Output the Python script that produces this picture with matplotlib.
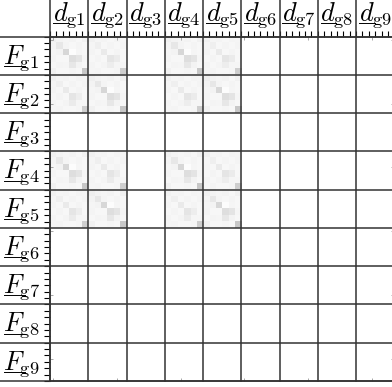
import numpy as np
import matplotlib
matplotlib.use("Agg")
import matplotlib.pyplot as plt
from matplotlib.lines import Line2D

plt.rcParams["mathtext.fontset"] = "cm"

# Group labels along each axis (main symbol + subscript)
col_symbol, row_symbol = "d", "F"
group_names = ["g1", "g2", "g3", "g4", "g5", "g6", "g7", "g8", "g9"]

# Groups that carry non-zero coupling blocks
active_groups = [1, 2, 4, 5]
paired_groups = [1, 4]

# 6x6 coupling block between groups of the same kind
block_same = [
    [0.13, 0.10, 0.08, 0.10, 0.07, 0.11],
    [0.10, 0.17, 0.09, 0.07, 0.09, 0.07],
    [0.08, 0.10, 0.26, 0.02, 0.08, 0.06],
    [0.09, 0.07, 0.06, 0.22, 0.19, 0.08],
    [0.07, 0.09, 0.08, 0.17, 0.10, 0.07],
    [0.11, 0.07, 0.06, 0.08, 0.07, 0.33],
]

# 6x6 coupling block between groups of different kind
block_cross = [
    [0.11, 0.08, 0.09, 0.07, 0.09, 0.08],
    [0.08, 0.13, 0.07, 0.09, 0.06, 0.09],
    [0.09, 0.07, 0.16, 0.06, 0.09, 0.07],
    [0.07, 0.09, 0.06, 0.18, 0.15, 0.06],
    [0.09, 0.06, 0.09, 0.14, 0.08, 0.08],
    [0.08, 0.09, 0.07, 0.06, 0.08, 0.30],
]

n_groups = len(group_names)
bs = 6
N = n_groups * bs

M = np.zeros((N, N))
for gi in active_groups:
    for gj in active_groups:
        if (gi in paired_groups) == (gj in paired_groups):
            blk = np.array(block_same)
        else:
            blk = np.array(block_cross)
            if gi > gj:
                blk = blk.T
        M[(gi - 1) * bs:gi * bs, (gj - 1) * bs:gj * bs] = blk

W, H = 392, 387
fig = plt.figure(figsize=(W / 100, H / 100), dpi=100)
left_px, top_px, side_px = 50.0, 36.7, 344.3
ax = fig.add_axes([left_px / W, (H - top_px - side_px) / H, side_px / W, side_px / H])

ax.imshow(M, cmap="Greys", vmin=0, vmax=1, aspect="auto", interpolation="nearest")

# Major ticks (no labels), small and inward on all sides
ax.set_xticks(np.arange(0, N, 10))
ax.set_yticks(np.arange(0, N, 10))
ax.tick_params(which="major", direction="in", length=2.5, width=0.6, color="#999999",
               top=True, bottom=True, left=True, right=True,
               labelbottom=False, labelleft=False, labeltop=False, labelright=False)

# Minor ticks at cell boundaries on top and left
minor = np.arange(-0.5, N, 1.0)
ax.set_xticks(minor, minor=True)
ax.set_yticks(minor, minor=True)
ax.tick_params(which="minor", direction="out", length=4, width=0.8, color="black",
               top=True, bottom=False, left=True, right=False)

for sp in ax.spines.values():
    sp.set_linewidth(1.1)
    sp.set_color("#333333")

# Block separators running into the label band
ext_left = -left_px / side_px
ext_top = 1 + top_px / side_px
for k in range(n_groups + 1):
    f = k / n_groups
    ax.add_line(Line2D([f, f], [0, ext_top], transform=ax.transAxes,
                       color="#333333", lw=1.1, clip_on=False))
    ax.add_line(Line2D([ext_left, 1], [1 - f, 1 - f], transform=ax.transAxes,
                       color="#333333", lw=1.1, clip_on=False))

FS = 19
renderer = fig.canvas.get_renderer()


def symbol_width(sym):
    t = fig.text(0, 0, r"$%s$" % sym, fontsize=FS)
    w = t.get_window_extent(renderer).width
    t.remove()
    return w


def underlined_label(x_px, base_px, sym, sub, ha):
    """Place a label at figure pixel coords (from top-left) and underline its main symbol."""
    t = fig.text(x_px / W, 1 - base_px / H, r"$%s_{\mathrm{%s}}$" % (sym, sub),
                 ha=ha, va="baseline", fontsize=FS)
    bb = t.get_window_extent(renderer)
    w = symbol_width(sym)
    y_line = (H - base_px - 2.6) / H
    fig.add_artist(Line2D([(bb.x0 + 0.5) / W, (bb.x0 + w + 0.5) / W], [y_line, y_line],
                          transform=fig.transFigure, color="black", lw=0.7))


block_px = side_px / n_groups
for k, name in enumerate(group_names):
    underlined_label(left_px + (k + 0.5) * block_px, 20.5, col_symbol, name, "center")
    underlined_label(3.0, top_px + k * block_px + 26.5, row_symbol, name, "left")

fig.savefig("out.png", dpi=100)
